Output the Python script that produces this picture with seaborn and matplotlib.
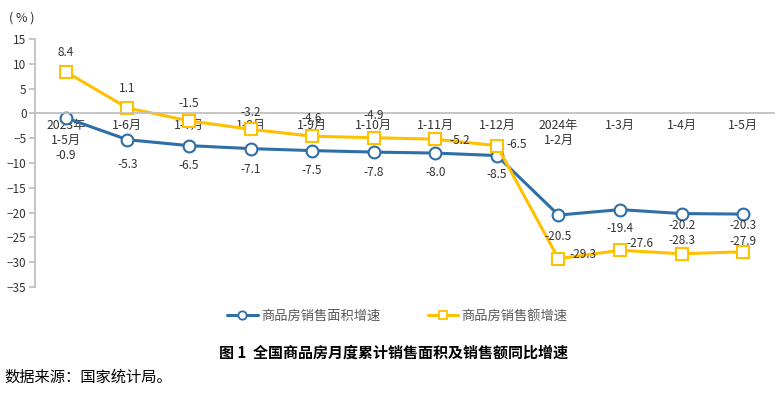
import pandas as pd  # dados
import matplotlib.pyplot as plt  # figura
import seaborn as sns  # linhas

sns.set_theme(style="white")
plt.rcParams['font.family'] = ['Noto Sans CJK SC', 'DejaVu Sans']

# Dados
periodos = ["2023年\n1-5月", "1-6月", "1-7月", "1-8月", "1-9月", "1-10月", "1-11月",
            "1-12月", "2024年\n1-2月", "1-3月", "1-4月", "1-5月"]
area = [-0.9, -5.3, -6.5, -7.1, -7.5, -7.8, -8.0, -8.5, -20.5, -19.4, -20.2, -20.3]
vendas = [8.4, 1.1, -1.5, -3.2, -4.6, -4.9, -5.2, -6.5, -29.3, -27.6, -28.3, -27.9]
nome_area = "商品房销售面积增速"
nome_vendas = "商品房销售额增速"

# Deslocamentos dos rótulos (pixels)
off_area = [(0, -38), (0, -25), (0, -20), (0, -21), (0, -20), (0, -20), (0, -19),
            (0, -19), (0, -21), (0, -19), (0, -12), (0, -11)]
off_vendas = [(0, 19), (0, 19), (0, 17), (0, 17), (0, 18), (0, 22), (24, -1),
              (20, 1), (24, 4), (20, 7), (0, 13), (0, 10)]

AZUL = "#2E6FA7"
AMARELO = "#FFC000"

df = pd.DataFrame({"x": list(range(len(periodos))) * 2,
                   "valor": area + vendas,
                   "serie": [nome_area] * len(area) + [nome_vendas] * len(vendas)})

fig = plt.figure(figsize=(7.79, 3.96), dpi=100)
ax = fig.add_axes([0.0449, 0.2753, 0.9487, 0.6262])

sns.lineplot(data=df, x="x", y="valor", hue="serie", style="serie",
             palette={nome_area: AZUL, nome_vendas: AMARELO},
             markers={nome_area: "o", nome_vendas: "s"}, dashes=False,
             linewidth=2.2, markersize=8.5, markerfacecolor="white",
             markeredgewidth=1.5, ax=ax, legend=False)
for ln, c in zip(ax.lines, [AZUL, AMARELO]):
    ln.set_markeredgecolor(c)

for i, v in enumerate(area):
    ax.annotate(f"{v:.1f}", (i, v), xytext=off_area[i], textcoords="offset pixels",
                ha="center", va="center", fontsize=8.5, color="#333333")
for i, v in enumerate(vendas):
    ax.annotate(f"{v:.1f}", (i, v), xytext=off_vendas[i], textcoords="offset pixels",
                ha="center", va="center", fontsize=8.5, color="#333333")

# Eixo X passa pelo zero (antes de configurar os ticks)
ax.spines["bottom"].set_position(("data", 0))
ax.spines["bottom"].set_color("#BFBFBF")
ax.spines["left"].set_color("#BFBFBF")
ax.spines["top"].set_visible(False)
ax.spines["right"].set_visible(False)

ax.set_xlim(-0.5, len(periodos) - 0.5)
ax.set_ylim(-35, 15)
ax.set_yticks(range(-35, 16, 5))
ax.set_xticks(range(len(periodos)))
ax.set_xticklabels(periodos, linespacing=1.2)
ax.set_xticks([i - 0.5 for i in range(len(periodos) + 1)], minor=True)
ax.tick_params(axis="x", which="major", length=0, pad=4, labelsize=8.8, labelcolor="#333333")
ax.tick_params(axis="x", which="minor", length=4, direction="in", color="#BFBFBF", width=1)
ax.tick_params(axis="y", length=4, direction="out", color="#BFBFBF", labelsize=8.5,
               labelcolor="#333333", pad=2, left=True)
ax.set_xlabel("")
ax.set_ylabel("")
ax.grid(False)

fig.text(0.011, 0.955, "( % )", fontsize=9, color="#333333", ha="left", va="center")

# Legenda
h1 = plt.Line2D([], [], color=AZUL, lw=2.2, marker="o", markersize=6,
                markerfacecolor="white", markeredgecolor=AZUL, markeredgewidth=1.3)
h2 = plt.Line2D([], [], color=AMARELO, lw=2.2, marker="s", markersize=6,
                markerfacecolor="white", markeredgecolor=AMARELO, markeredgewidth=1.3)
fig.legend([h1, h2], [nome_area, nome_vendas], loc="center", bbox_to_anchor=(0.510, 0.202),
           ncol=2, frameon=False, fontsize=9.5, handlelength=2.3, columnspacing=3.6,
           handletextpad=0.25, labelcolor="#595959")

fig.text(0.505, 0.11, "图 1  全国商品房月度累计销售面积及销售额同比增速", fontsize=10.8,
         fontweight="bold", ha="center", va="center", color="black")
fig.text(0.006, 0.048, "数据来源：国家统计局。", fontsize=11, ha="left", va="center",
         color="black")

fig.savefig("out.png", dpi=100)
